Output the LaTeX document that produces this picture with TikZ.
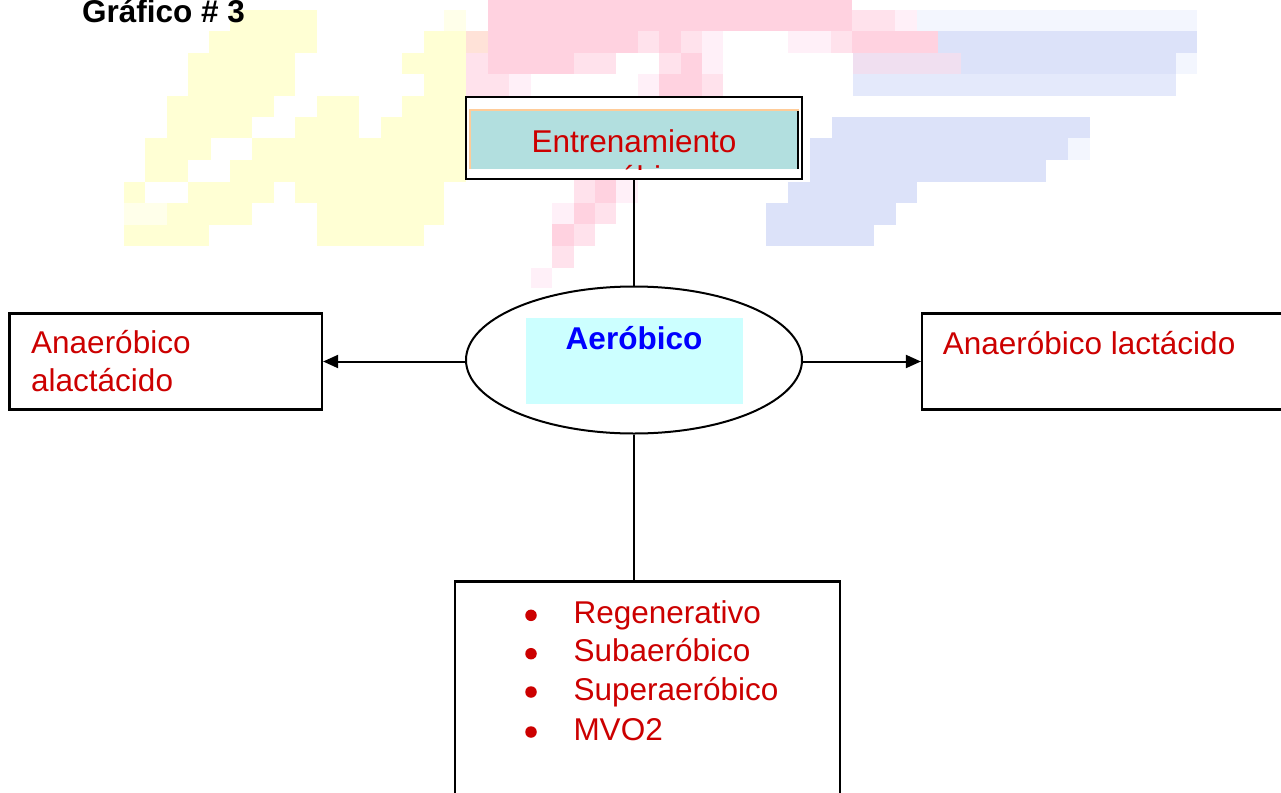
\documentclass[tikz,border=0pt]{standalone}
\usepackage{fontspec}
\setmainfont{Liberation Sans}
\usetikzlibrary{shapes.geometric,arrows.meta}
\definecolor{txtred}{HTML}{CC0000}
\definecolor{txtblue}{HTML}{0000FF}
\definecolor{tealc}{HTML}{B2DFDF}
\definecolor{orangec}{HTML}{FFCC99}
\definecolor{cyanc}{HTML}{CCFFFF}
\definecolor{wY}{HTML}{FFFFD4}
\definecolor{wYF}{HTML}{FFFFEA}
\definecolor{wP}{HTML}{FFD2E0}
\definecolor{wPL}{HTML}{FFE2EC}
\definecolor{wPF}{HTML}{FFF0F8}
\definecolor{wPe}{HTML}{FFE2D8}
\definecolor{wB}{HTML}{DCE2F9}
\definecolor{wBL}{HTML}{E4E9FB}
\definecolor{wBF}{HTML}{F3F6FE}
\definecolor{wLV}{HTML}{F0DFF0}
\newcommand\wmblk[5]{\fill[#1] (#2,#3) rectangle (#4,#5);}
\tikzset{
  bigfont/.style={font=\fontsize{31.5}{38}\selectfont},
  boxstyle/.style={draw=black, line width=2.2pt, fill=white, inner sep=0pt},
  redtxt/.style={bigfont, text=txtred, inner sep=0pt},
  dotstyle/.style={circle, fill=txtred, minimum size=11.5pt, inner sep=0pt},
  conn/.style={line width=2pt},
  arr/.style={line width=2pt, -{Triangle[length=15pt,width=13pt]}}
}
\begin{document}
\begin{tikzpicture}[x=1pt,y=-1pt]
\useasboundingbox (0,0) rectangle (1281,792);
% ---- faint watermark (yellow) ----
\wmblk{wY}{230}{10}{317}{31}\wmblk{wYF}{444}{10}{466}{31}
\wmblk{wY}{209}{31}{317}{53}\wmblk{wY}{424}{31}{466}{53}
\wmblk{wY}{188}{53}{295}{74}\wmblk{wY}{402}{53}{466}{74}
\wmblk{wY}{188}{74}{295}{96}\wmblk{wY}{424}{74}{466}{96}
\wmblk{wY}{167}{96}{274}{117}\wmblk{wY}{317}{96}{359}{117}\wmblk{wY}{402}{96}{466}{117}
\wmblk{wY}{167}{117}{252}{138}\wmblk{wY}{295}{117}{359}{138}\wmblk{wY}{381}{117}{466}{138}
\wmblk{wY}{145}{138}{211}{160}\wmblk{wY}{252}{138}{466}{160}
\wmblk{wY}{145}{160}{188}{182}\wmblk{wY}{230}{160}{466}{182}
\wmblk{wY}{124}{182}{145}{203}\wmblk{wY}{188}{182}{274}{203}\wmblk{wY}{295}{182}{444}{203}
\wmblk{wYF}{124}{203}{167}{225}\wmblk{wY}{167}{203}{252}{225}\wmblk{wY}{317}{203}{444}{225}
\wmblk{wY}{124}{225}{209}{246}\wmblk{wY}{317}{225}{424}{246}
% ---- faint watermark (pink) ----
\wmblk{wP}{488}{0}{852}{10}
\wmblk{wP}{488}{10}{852}{31}\wmblk{wPL}{852}{10}{895}{31}\wmblk{wPF}{895}{10}{917}{31}
\wmblk{wPe}{466}{31}{488}{53}\wmblk{wP}{488}{31}{638}{53}\wmblk{wPL}{638}{31}{702}{53}\wmblk{wP}{659}{31}{681}{53}
\wmblk{wPF}{702}{31}{723}{53}\wmblk{wPF}{788}{31}{831}{53}\wmblk{wPL}{831}{31}{852}{53}\wmblk{wP}{852}{31}{938}{53}
\wmblk{wPL}{466}{53}{488}{74}\wmblk{wP}{488}{53}{574}{74}\wmblk{wPL}{574}{53}{616}{74}\wmblk{wPL}{659}{53}{681}{74}
\wmblk{wP}{681}{53}{702}{74}\wmblk{wPF}{702}{53}{723}{74}\wmblk{wLV}{853}{53}{961}{74}
\wmblk{wPL}{466}{74}{509}{96}\wmblk{wPF}{509}{74}{531}{96}\wmblk{wPF}{638}{74}{659}{96}\wmblk{wP}{659}{74}{702}{96}\wmblk{wPL}{702}{74}{723}{96}
\wmblk{wPL}{574}{179}{595}{203}\wmblk{wP}{595}{179}{616}{203}\wmblk{wPF}{616}{179}{638}{203}
\wmblk{wPF}{552}{203}{574}{224}\wmblk{wP}{574}{203}{595}{224}\wmblk{wPL}{595}{203}{616}{224}
\wmblk{wP}{552}{224}{574}{246}\wmblk{wPL}{574}{224}{595}{246}
\wmblk{wPL}{552}{246}{574}{268}
\wmblk{wPF}{531}{268}{552}{288}
% ---- faint watermark (blue) ----
\wmblk{wBF}{917}{10}{1197}{31}
\wmblk{wB}{938}{31}{1197}{53}
\wmblk{wB}{961}{53}{1176}{74}\wmblk{wBF}{1176}{53}{1197}{74}
\wmblk{wBL}{853}{74}{1176}{96}
\wmblk{wB}{832}{117}{1090}{138}
\wmblk{wB}{810}{138}{1068}{160}\wmblk{wBF}{1068}{138}{1090}{160}
\wmblk{wB}{810}{160}{1046}{182}
\wmblk{wB}{788}{182}{917}{203}
\wmblk{wB}{766}{203}{896}{225}
\wmblk{wB}{766}{225}{874}{246}
% ---- title ----
\node[font=\fontsize{31.5}{38}\selectfont\bfseries, anchor=base west, inner sep=0pt] (title) at (82,23) {Gráfico \# 3};
% ---- top box ----
\node[boxstyle, minimum width=336pt, minimum height=82.5pt] (top) at (634,138) {};
\fill[tealc] (470,110) rectangle (798,169);
\draw[orangec, line width=1.5pt] (470,169) -- (470,110) -- (798,110) -- (798,169);
\draw[black, line width=2pt] (797.5,111) -- (797.5,169);
\begin{scope}
\clip (470,110) rectangle (798,169);
\node[redtxt, anchor=base] (entr) at (634,152.7) {Entrenamiento};
\node[redtxt, anchor=base] (entr2) at (634,188) {aeróbico};
\end{scope}
% ---- ellipse ----
\node[ellipse, draw=black, line width=2pt, fill=white, minimum width=336pt, minimum height=147pt, inner sep=0pt] (ell) at (634,360) {};
\node[fill=cyanc, minimum width=217pt, minimum height=86pt, inner sep=0pt] (aerbg) at (634.5,360.7) {};
\node[font=\fontsize{31.5}{38}\selectfont\bfseries, text=txtblue, anchor=base, inner sep=0pt] (aer) at (634,349) {Aeróbico};
% ---- left box ----
\node[boxstyle, minimum width=312.5pt, minimum height=96pt] (left) at (165.75,361.5) {};
\node[redtxt, anchor=base west] (l1) at (31,353) {Anaeróbico};
\node[redtxt, anchor=base west] (l2) at (31,391) {alactácido};
% ---- right box ----
\node[boxstyle, minimum width=364pt, minimum height=96pt] (right) at (1104,361.5) {};
\node[redtxt, anchor=base west] (r1) at (942.7,354) {Anaeróbico lactácido};
% ---- bottom box ----
\node[boxstyle, minimum width=385pt, minimum height=222pt] (bottom) at (647.5,692.5) {};
\node[dotstyle] (b1d) at (531,615.3) {};
\node[redtxt, anchor=base west] (b1) at (573.3,623.3) {Regenerativo};
\node[dotstyle] (b2d) at (531,653.7) {};
\node[redtxt, anchor=base west] (b2) at (573.3,661.7) {Subaeróbico};
\node[dotstyle] (b3d) at (531,692) {};
\node[redtxt, anchor=base west] (b3) at (573.3,700) {Superaeróbico};
\node[dotstyle] (b4d) at (531,732) {};
\node[redtxt, anchor=base west] (b4) at (573.3,740) {MVO2};
% ---- connectors ----
\draw[conn] (top.south) -- (ell.north);
\draw[conn] (ell.south) -- (ell.south |- bottom.north);
\draw[arr] (ell.west |- left.east) -- (left.east);
\draw[arr] (ell.east |- right.west) -- (right.west);
\end{tikzpicture}
\end{document}
